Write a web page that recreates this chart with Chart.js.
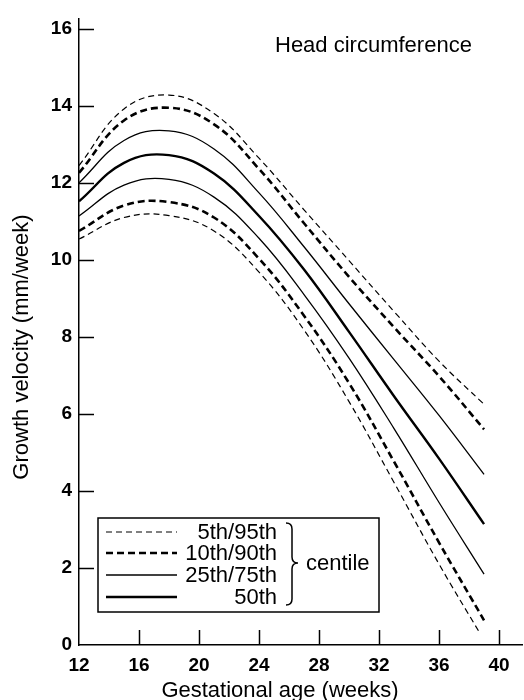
<!DOCTYPE html>
<html>
<head>
<meta charset="utf-8">
<title>Head circumference growth velocity</title>
<script src="https://cdn.jsdelivr.net/npm/chart.js@4.4.1/dist/chart.umd.min.js"></script>
<style>
  html, body { margin: 0; padding: 0; background: #fff; }
  #wrap { width: 524px; height: 700px; }
</style>
</head>
<body>
<div id="wrap"><canvas id="growthChart" width="524" height="700"></canvas></div>
<script>
// gestational age (weeks) where each centile curve is sampled
var weeks = [12, 15, 18, 21, 24, 27, 30, 33, 36, 39];
// the 5th centile stops a little earlier
var weeks5th = [12, 15, 18, 21, 24, 27, 30, 33, 36, 38.7];

// growth velocity (mm/week) for each centile
var p95 = [12.45, 13.92, 14.28, 13.8, 12.64, 11.3, 9.98, 8.66, 7.37, 6.25];
var p90 = [12.26, 13.62, 13.95, 13.52, 12.36, 10.95, 9.56, 8.25, 6.98, 5.6];
var p75 = [12.0, 13.1, 13.35, 12.88, 11.74, 10.34, 8.86, 7.41, 5.96, 4.43];
var p50 = [11.52, 12.52, 12.72, 12.24, 11.14, 9.75, 8.13, 6.46, 4.84, 3.14];
var p25 = [11.14, 11.94, 12.09, 11.63, 10.56, 9.1, 7.45, 5.62, 3.7, 1.84];
var p10 = [10.75, 11.41, 11.5, 11.1, 10.03, 8.55, 6.8, 4.76, 2.66, 0.64];
var p5 = [10.54, 11.1, 11.15, 10.75, 9.68, 8.18, 6.32, 4.22, 2.1, 0.32];

// axis tick labels
var xTicks = [12, 16, 20, 24, 28, 32, 36, 40];
var yTicks = [0, 2, 4, 6, 8, 10, 12, 14, 16];

// legend rows: label, line width, dash pattern
var legendLabels = ['5th/95th', '10th/90th', '25th/75th', '50th'];
var legendWidths = [1.2, 2.6, 1.3, 2.4];
var legendDashes = [[6, 4], [7, 4], [], []];

var FONT = "'Liberation Sans', Arial, Helvetica, sans-serif";

function points(xs, ys) {
  return xs.map(function (w, i) { return { x: w, y: ys[i] }; });
}

// style index into the legend arrays for each curve
function curve(xs, ys, styleIdx) {
  return {
    data: points(xs, ys),
    borderColor: '#000',
    borderWidth: legendWidths[styleIdx],
    borderDash: legendDashes[styleIdx],
    pointRadius: 0,
    fill: false,
    tension: 0.4
  };
}

// inward tick marks, axis titles, the panel title and the centile key
var decorations = {
  id: 'decorations',
  afterDraw: function (chart) {
    var ctx = chart.ctx;
    var x = chart.scales.x;
    var y = chart.scales.y;
    var area = chart.chartArea;

    ctx.save();
    ctx.strokeStyle = '#000';
    ctx.fillStyle = '#000';
    ctx.lineWidth = 1.5;

    yTicks.forEach(function (v) {
      if (v === 0) return;
      var py = Math.round(y.getPixelForValue(v)) + 0.5;
      ctx.beginPath();
      ctx.moveTo(area.left, py);
      ctx.lineTo(area.left + 15, py);
      ctx.stroke();
    });
    xTicks.forEach(function (v) {
      if (v === 12) return;
      var px = Math.round(x.getPixelForValue(v)) + 0.5;
      ctx.beginPath();
      ctx.moveTo(px, area.bottom);
      ctx.lineTo(px, area.bottom - 15);
      ctx.stroke();
    });

    // titles
    ctx.font = '22px ' + FONT;
    ctx.textBaseline = 'alphabetic';
    ctx.textAlign = 'left';
    ctx.fillText('Head circumference', 275, 52);

    ctx.textAlign = 'center';
    ctx.fillText('Gestational age (weeks)', 280, 697);

    ctx.save();
    ctx.translate(28, 347);
    ctx.rotate(-Math.PI / 2);
    ctx.fillText('Growth velocity (mm/week)', 0, 0);
    ctx.restore();

    // key box
    ctx.fillStyle = '#fff';
    ctx.fillRect(98, 518, 281, 94);
    ctx.fillStyle = '#000';
    ctx.lineWidth = 1.5;
    ctx.strokeRect(98, 518, 281, 94);

    var rowY = [532, 553, 575, 597];
    ctx.textAlign = 'right';
    ctx.textBaseline = 'middle';
    ctx.font = '22px ' + FONT;
    legendLabels.forEach(function (label, i) {
      ctx.lineWidth = legendWidths[i];
      ctx.setLineDash(legendDashes[i]);
      ctx.beginPath();
      ctx.moveTo(106, rowY[i]);
      ctx.lineTo(177, rowY[i]);
      ctx.stroke();
      ctx.setLineDash([]);
      ctx.fillText(label, 277, rowY[i] + 1);
    });

    // brace grouping the rows
    ctx.lineWidth = 1.5;
    ctx.beginPath();
    ctx.moveTo(286, 523);
    ctx.quadraticCurveTo(292, 523, 292, 529);
    ctx.lineTo(292, 557);
    ctx.quadraticCurveTo(292, 563, 298, 563);
    ctx.quadraticCurveTo(292, 563, 292, 569);
    ctx.lineTo(292, 599);
    ctx.quadraticCurveTo(292, 605, 286, 605);
    ctx.stroke();

    ctx.textAlign = 'left';
    ctx.fillText('centile', 306, 564);

    ctx.restore();
  }
};

var tickFont = { family: FONT, size: 19, weight: 'bold' };

new Chart(document.getElementById('growthChart'), {
  type: 'line',
  data: {
    datasets: [
      curve(weeks, p95, 0),
      curve(weeks, p90, 1),
      curve(weeks, p75, 2),
      curve(weeks, p50, 3),
      curve(weeks, p25, 2),
      curve(weeks, p10, 1),
      curve(weeks5th, p5, 0)
    ]
  },
  options: {
    responsive: false,
    animation: false,
    devicePixelRatio: 1,
    layout: { padding: { top: 12, right: 2, left: 0, bottom: 0 } },
    plugins: {
      legend: { display: false },
      tooltip: { enabled: false }
    },
    scales: {
      x: {
        type: 'linear',
        min: 12,
        max: 41.53,
        afterBuildTicks: function (scale) {
          scale.ticks = xTicks.map(function (v) { return { value: v }; });
        },
        afterFit: function (scale) { scale.height = 55; },
        grid: { drawOnChartArea: false, drawTicks: false },
        border: { color: '#000', width: 1.5 },
        ticks: { color: '#000', font: tickFont, padding: 9, maxRotation: 0, autoSkip: false }
      },
      y: {
        type: 'linear',
        min: 0,
        max: 16.27,
        afterBuildTicks: function (scale) {
          scale.ticks = yTicks.map(function (v) { return { value: v }; });
        },
        afterFit: function (scale) { scale.width = 79; },
        grid: { drawOnChartArea: false, drawTicks: false },
        border: { color: '#000', width: 1.5 },
        ticks: { color: '#000', font: tickFont, padding: 7, autoSkip: false }
      }
    }
  },
  plugins: [decorations]
});
</script>
</body>
</html>
